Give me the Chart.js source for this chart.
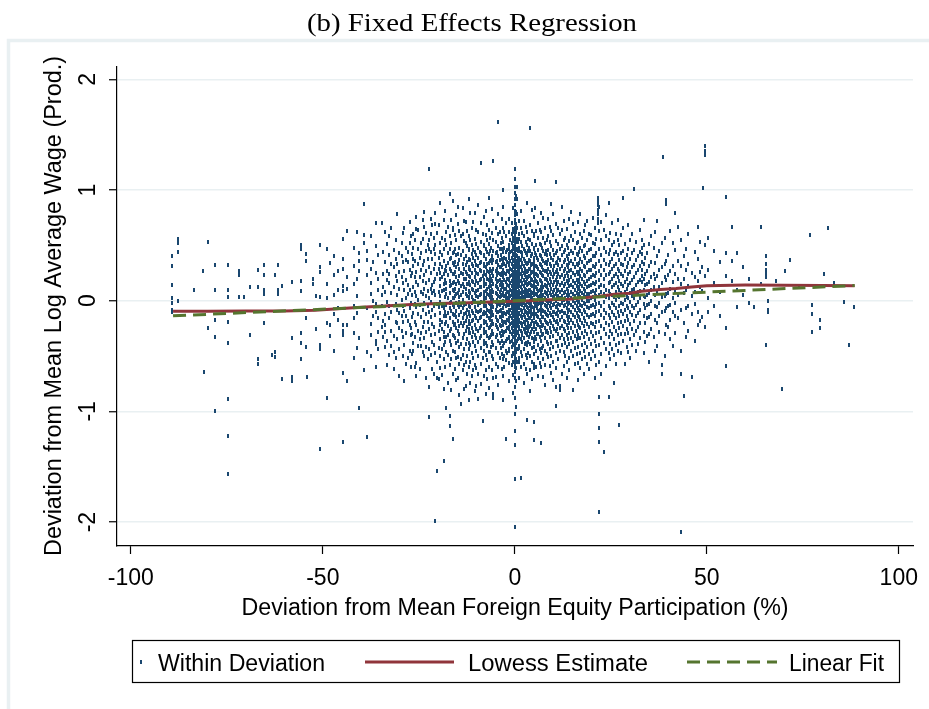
<!DOCTYPE html>
<html>
<head>
<meta charset="utf-8">
<script src="https://cdn.jsdelivr.net/npm/chart.js@4.4.1/dist/chart.umd.min.js"></script>
<style>
html,body{margin:0;padding:0;background:#fff;}
#wrap{width:929px;height:709px;}
</style>
</head>
<body>
<div id="wrap"><canvas id="c" width="929" height="709" style="width:929px;height:709px"></canvas></div>
<script>
// ---------- texts ----------
const chartTitle = '(b) Fixed Effects Regression';
const xAxisTitle = 'Deviation from Mean Foreign Equity Participation (%)';
const yAxisTitle = 'Deviation from Mean Log Average Wage (Prod.)';
const legendLabels = ['Within Deviation', 'Lowess Estimate', 'Linear Fit'];

// ---------- axes ----------
const xTicks = [-100, -50, 0, 50, 100];
const yTicks = [-2, -1, 0, 1, 2];
const xRange = [-103.6, 103.7];
const yRange = [-2.216, 2.111];

// ---------- fitted lines ----------
const lowessX = [-89, -80, -70, -60, -52, -46, -40, -34, -27, -20, -14, -8, -3, 0, 4, 9, 14, 18, 22, 26, 30, 33, 38, 42, 46, 50, 60, 70, 80, 88.5];
const lowessY = [-0.095, -0.095, -0.094, -0.093, -0.086, -0.072, -0.06, -0.048, -0.034, -0.026, -0.02, -0.014, -0.01, -0.006, 0, 0.008, 0.014, 0.026, 0.04, 0.058, 0.068, 0.086, 0.102, 0.11, 0.124, 0.136, 0.141, 0.139, 0.137, 0.136];
const linearX = [-89, 88.5];
const linearY = [-0.137, 0.137];

// ---------- scatter (x value, list of y values at that x) ----------
const farLeftStrips = [
  [-89.3, [.4,.31,.14,.02,-.02,-.1,-.08]],
  [-87.7, [.56,.52,.44,0]],
  [-83.5, [.1]],
  [-81.3, [.27]],
  [-80.9, [-.64]],
  [-80, [.53,-.25]],
  [-78, [.32,.1,-.17,-.33,-1]],
  [-74.6, [.32,.1,.03,-.19,-.38,-.89,-1.22,-1.57]],
  [-71.8, [.27,.23,.03]],
  [-70.4, [.03]],
  [-68.9, [.12,-.31]],
  [-66.8, [.28,.12,-.53,-.57]],
  [-65.2, [.32,.23,.1,.06,-.2]],
  [-63.2, [-.49]],
  [-62.5, [.23,-.46,-.51]],
  [-61.6, [.32,.06,.1]],
  [-60.6, [.13,-.71]],
  [-58, [.17,-.34,-.69,-.73]],
  [-55.8, [.5,.47,.18,.09,-.29,-.38,-.53]],
  [-54.4, [.42,.36,-.16,-.42]],
  [-54.2, [-.69]],
  [-52.5, [.2,.15]],
  [-51.8, [.04,-.26]],
  [-50.7, [.5,.3,.26,.03,-.4,-.44,-1.34]],
  [-49, [.15,.02,-.2,-.88]],
  [-48.8, [.47]],
  [-48, [.34,-.22,-.32]],
  [-47, [.4,.23,.05,-.12,-.45]],
  [-46, [.27,.1,-.07,-.17]],
  [-44.8, [.56,.38,.29,.13,.09,-.22,-.27,-.31,-.65,-1.28]],
  [-43.6, [.63,.21,.11,-.22,-.73]],
  [-42, [.48,.31,.15,-.05,-.16,-.29,-.52]],
  [-41.2, [.62,.2,.04,-.11,-.43]],
  [-40.5, [.43,.36,.27,-.34,-.97]],
  [-39.2, [.87,.59,.52,-.63]],
  [-38.4, [.45,.37,.23,-.07,-.46,-1.23]],
  [-37.5, [.58,.29,.16,.06,-.21,-.31,-.5]],
  [-36.9, [.35,0,-.14]],
  [-36.1, [.7,.49,.25,-.03,-.1,-.36,-.39,-.6]],
  [-35.5, [.41,.2,.1,-.16,-.28,-.44]]
];
const midLeftStrips = [
  [-34.6, [.7,.05,-.05,-.24]],
  [-34.2, [.44,.24,.12,-.18,-.33]],
  [-33.7, [.62,.35,.08,-.12,-.22,-.28,-.42]],
  [-33.2, [.51,.27,.19,-.01,-.36,-.58]],
  [-32.7, [.58,.41,.24,.16,-.05,-.16,-.49]],
  [-32.2, [.66,.33,.07,-.1,-.27,-.41]],
  [-31.4, [.46,.3,.12,-.32,-.46,-.62]],
  [-31, [.55,.38,.22,-.03,-.19,-.52]],
  [-30.6, [.78,.33,.18,.05,-.08,-.2,-.35]],
  [-30.1, [.43,.26,.11,-.11,-.25,-.44,-.68]],
  [-29.5, [.52,.4,.21,.01,-.14,-.27]],
  [-29.1, [.61,.35,.16,-.05,-.19,-.33,-.5]],
  [-28.8, [.66,.27,.1,-.09,-.4,-.73]],
  [-28.3, [.48,.37,.19,.02,-.14,-.29,-.57]],
  [-27.8, [.44,.35,.14,.06,-.18,-.52]],
  [-27.4, [.71,.52,.28,.1,-.07,-.22,-.45]],
  [-27, [.58,.22,-.02,-.25,-.31,-.6]],
  [-26.8, [.42,.25,.05,-.15,-.3,-.48]],
  [-26.4, [.6,.48,.38,.31,.12,-.11,-.38,-.45]],
  [-26, [.55,.36,.21,.08,-.03,-.19,-.33,-.6]],
  [-25.7, [.76,.65,.26,.17,.04,-.06,-.22,-.56,-.68]],
  [-25.2, [.64,.47,.33,.14,.01,-.12,-.27,-.41]],
  [-24.8, [.39,.21,-.04,-.35,-.62]],
  [-24.4, [.52,.43,.28,.08,-.15,-.29,-.41]],
  [-24, [.73,.56,.32,.18,.06,-.08,-.24,-.46]],
  [-23.6, [.8,.67,.36,.23,.11,-.02,-.19,-.34,-.5]],
  [-23.1, [.61,.45,.27,.16,.04,-.12,-.28,-.42,-.7]],
  [-22.7, [.5,.38,.09,-.05,-.19,-.53]],
  [-22.3, [1.19,.55,.47,.3,.19,.02,-.1,-.26,-.44,-.78,-1.05]],
  [-21.9, [.74,.6,.44,.25,.11,-.01,-.15,-.31,-.49]],
  [-21.5, [.68,.38,.14,.07,-.08,-.21,-.37,-.62]],
  [-21.1, [.57,.47,.29,.17,.09,-.05,-.24,-.4,-.66]],
  [-20.7, [.79,.69,.5,.42,.33,.2,.05,-.13,-.3,-.47,-1.99]],
  [-20.2, [.61,.24,-.03,-.55,-.7,-1.54]]
];
const coreStrips = [
  [-19.4, [.88,.52,.44,.33,.25,.2,.13,.04,-.01,-.11,-.17,-.22,-.35,-.5,-.61]],
  [-18.5, [.73,.47,.36,.24,.15,.1,-.03,-.07,-.14,-.28,-.33,-.4,-.53,-.8,-1.45]],
  [-17.9, [.62,.5,.31,.27,.16,.11,.06,-.04,-.14,-.19,-.33,-.46,-.97]],
  [-17, [.96,.58,.47,.38,.29,.18,.13,.07,-.02,-.07,-.16,-.27,-.36,-.58,-1.04,-1.13]],
  [-16, [.9,.66,.64,.43,.34,.24,.16,.1,.02,-.04,-.12,-.19,-.31,-.45,-.66,-1.25]],
  [-15.2, [.77,.55,.41,.3,.21,.15,.06,-.02,-.09,-.15,-.25,-.38,-.52,-.72]],
  [-14.5, [.63,.48,.37,.29,.22,.16,.1,.03,-.01,-.06,-.13,-.23,-.3,-.42,-.57,-.85]],
  [-13.6, [.84,.6,.45,.33,.24,.15,.08,.01,-.07,-.16,-.23,-.34,-.49,-.63]],
  [-12.8, [.71,.52,.4,.32,.26,.2,.11,.06,-.03,-.11,-.18,-.27,-.39,-.55,-.77]],
  [-12, [.92,.58,.46,.38,.3,.22,.17,.08,.02,-.05,-.12,-.21,-.29,-.44,-.6,-.9]],
  [-11.2, [.66,.5,.42,.33,.25,.18,.11,.03,-.02,-.09,-.18,-.25,-.33,-.47,-.68]],
  [-10.4, [.79,.56,.44,.36,.28,.21,.14,.07,0,-.06,-.14,-.22,-.31,-.41,-.58,-.82]],
  [-9.5, [.86,.62,.48,.39,.31,.24,.16,.1,.03,-.04,-.1,-.18,-.27,-.37,-.5,-.66,-.89]],
  [-9.1, [.44,.34,.28,.19,.12,.05,-.02,-.09,-.16,-.25,-.34]],
  [-8.7, [1.24,.7,.53,.43,.35,.27,.2,.12,.06,-.01,-.08,-.15,-.23,-.32,-.43,-.57,-.75]],
  [-8.3, [.6,.22,-.12,-.52,-1.09]],
  [-7.6, [.81,.59,.47,.38,.3,.23,.15,.09,.02,-.05,-.11,-.19,-.28,-.38,-.49,-.63,-.84]],
  [-6.8, [.93,.64,.51,.42,.34,.26,.19,.12,.05,-.02,-.09,-.16,-.25,-.34,-.46,-.6,-.79]],
  [-6.2, [.48,.37,.27,.2,.13,.07,0,-.07,-.14,-.22,-.31,-.42]],
  [-5.6, [1.26,.72,.55,.45,.37,.29,.22,.15,.08,.01,-.06,-.13,-.21,-.3,-.4,-.53,-.7,-.84,-.88]],
  [-4.3, [1.61,.78,.6,.49,.4,.32,.25,.18,.11,.04,-.03,-.1,-.18,-.26,-.36,-.47,-.6,-.76]],
  [-3.6, [.52,.41,.3,.23,.16,.1,.04,-.02,-.08,-.15,-.23,-.32,-.43]],
  [-3, [1,.85,.66,.53,.44,.36,.28,.21,.14,.07,0,-.07,-.14,-.22,-.31,-.41,-.53,-.68,-.9]],
  [-2.4, [.7,.31,.02,-.19,-.45,-1.25]],
  [-2, [.46,.35,.27,.2,.14,.08,.02,-.04,-.1,-.17,-.25,-.35,-.47]],
  [-1.6, [.74,.62,.5,.42,.34,.27,.2,.13,.06,-.01,-.08,-.16,-.24,-.33,-.44,-.56,-.73]],
  [-1.2, [.55,.44,.36,.29,.22,.16,.1,.04,-.02,-.08,-.14,-.21,-.28,-.37]],
  [-0.8, [.7,.6,.52,.45,.39,.33,.28,.23,.18,.13,.09,.05,.01,-.03,-.07,-.11,-.16,-.2,-.25,-.3,-.36,-.42,-.5,-.58]],
  [0, [1.19,1.1,1.03,.97,.92,.86,.81,.77,.73,.7,.66,.63,.6,.57,.54,.51,.48,.45,.42,.39,.36,.33,.3,.27,.24,.21,.18,.15,.12,.09,.06,.03,0,-.03,-.06,-.09,-.12,-.15,-.18,-.21,-.24,-.27,-.3,-.33,-.36,-.39,-.42,-.45,-.48,-.51,-.54,-.57,-.6,-.64,-.7,-.78,-.88,-1.02,-1.18,-1.3,-1.61,-2.04]],
  [0.6, [1.03,.92,.78,.66,.56,.47,.4,.35,.3,.26,.22,.19,.15,.12,.08,.05,.02,-.02,-.06,-.09,-.13,-.18,-.23,-.29,-.36,-.44,-.55]],
  [1, [.6,.48,.39,.32,.25,.19,.13,.07,.01,-.05,-.11,-.17,-.24,-.32,-.41,-.52]],
  [1.5, [.81,.66,.53,.44,.37,.3,.24,.18,.12,.07,.02,-.03,-.08,-.14,-.2,-.27,-.35,-.46,-.6]],
  [1.7, [-1.6]],
  [2, [.43,.34,.27,.21,.15,.09,.03,-.03,-.09,-.16,-.23,-.31]],
  [2.4, [.72,.58,.47,.38,.31,.25,.19,.13,.08,.03,-.02,-.07,-.13,-.19,-.26,-.34,-.44,-.57,-.74]],
  [3.2, [.88,.62,.5,.41,.33,.26,.2,.14,.09,.04,-.01,-.06,-.11,-.17,-.24,-.31,-.4,-.52,-.66,-1.08]],
  [3.6, [.48,.37,.29,.22,.16,.1,.04,-.02,-.09,-.16,-.24,-.33]],
  [4, [1.56,.68,.55,.45,.36,.29,.22,.16,.1,.05,0,-.05,-.1,-.16,-.23,-.3,-.39,-.5,-.63,-.82]],
  [4.9, [.76,.6,.48,.39,.31,.24,.17,.11,.05,-.01,-.07,-.13,-.2,-.28,-.37,-.48,-.61,-1.1,-1.26]],
  [5.3, [1.08,.84,.43,.2,-.04,-.33]],
  [5.7, [.39,.3,.23,.17,.11,.05,-.01,-.07,-.14,-.21,-.3]],
  [6.1, [.7,.57,.46,.37,.29,.22,.15,.09,.03,-.03,-.09,-.15,-.22,-.3,-.4,-.52,-.68]],
  [6.9, [.79,.62,.5,.4,.32,.25,.18,.12,.06,0,-.06,-.12,-.19,-.27,-.36,-.47,-.6,-1.29]],
  [7.8, [.66,.52,.42,.34,.27,.2,.14,.08,.02,-.04,-.1,-.17,-.25,-.34,-.45,-.58,-.76]],
  [8.2, [.45,.35,.27,.2,.13,.07,.01,-.05,-.12,-.19,-.28]],
  [8.7, [.74,.58,.46,.37,.29,.23,.16,.1,.04,-.02,-.08,-.14,-.21,-.29,-.39,-.51]],
  [9.5, [.87,.63,.49,.39,.31,.24,.17,.11,.05,-.01,-.07,-.13,-.2,-.28,-.38,-.5,-.65]],
  [10.1, [.41,.31,.24,.17,.1,.04,-.03,-.1,-.17,-.26]],
  [10.8, [1.07,.69,.54,.43,.34,.26,.19,.12,.06,0,-.06,-.12,-.19,-.27,-.36,-.47,-.61,-.78,-.95]],
  [11.8, [.6,.47,.37,.29,.21,.14,.08,.02,-.04,-.1,-.17,-.25,-.34,-.45,-.77,-.81]],
  [12.7, [.72,.55,.44,.35,.27,.2,.13,.07,.01,-.05,-.11,-.18,-.26,-.35,-.46,-.59]],
  [13.6, [.65,.5,.4,.32,.25,.18,.11,.05,-.01,-.07,-.14,-.22,-.31,-.42,-.55,-.7]],
  [14.6, [.8,.58,.45,.36,.28,.21,.14,.08,.02,-.04,-.1,-.17,-.25,-.34,-.45]],
  [15.6, [.62,.48,.38,.3,.23,.16,.1,.04,-.02,-.08,-.15,-.23,-.32,-.43,-.57]],
  [16.5, [.71,.53,.41,.32,.24,.17,.11,.05,-.01,-.07,-.14,-.22,-.31,-.42,-.56,-.72]],
  [17.5, [.57,.45,.35,.27,.2,.13,.07,.01,-.05,-.12,-.2,-.29,-.4,-.53]],
  [18.4, [.68,.5,.39,.3,.22,.15,.09,.03,-.03,-.1,-.18,-.27,-.38,-.51]],
  [19.3, [.6,.46,.36,.28,.2,.13,.06,0,-.07,-.15,-.24,-.35,-.48,-.62]],
  [20.3, [.75,.52,.4,.31,.23,.16,.09,.03,-.04,-.12,-.21,-.32,-.45]],
  [21.2, [.56,.43,.33,.25,.17,.1,.04,-.03,-.1,-.19,-.29,-.41,-.58]],
  [21.7, [.93,.9,.86,.82,.78,.74,.7]]
];
const coreFillStrips = [
  [-19.8, [.68,.39,.29,.08,-.06,-.27,-.43,-.71]],
  [-19, [.57,.41,.3,.21,.09,-.05,-.19,-.26,-.44,-.67]],
  [-18.2, [.81,.55,.28,.19,.03,-.1,-.21,-.37,-.6]],
  [-17.4, [.67,.43,.34,.23,.02,-.11,-.23,-.31,-.49,-.74]],
  [-16.6, [.73,.52,.39,.27,.14,-.01,-.09,-.26,-.4,-.53,-.81]],
  [-15.9, [.44,.32,.24,.17,.09,.02,-.06,-.13,-.22,-.32]],
  [-15.6, [.59,.47,.35,.26,.11,.04,-.13,-.21,-.34,-.46,-.62]],
  [-14.9, [.85,.69,.42,.33,.18,.07,-.04,-.18,-.27,-.36,-.51,-.7]],
  [-14.1, [.58,.41,.25,.13,.05,-.04,-.1,-.2,-.39,-.53,-.93]],
  [-13.2, [.72,.54,.38,.29,.2,.12,-.04,-.12,-.2,-.3,-.44,-.58,-.8]],
  [-12.4, [.63,.49,.35,.24,.15,.04,-.08,-.15,-.24,-.35,-.5,-.66]],
  [-11.9, [.47,.37,.29,.22,.15,.09,.03,-.03,-.1,-.18,-.26,-.38]],
  [-11.6, [.79,.55,.37,.28,.21,.14,.07,-.06,-.14,-.21,-.29,-.4,-.55,-.74]],
  [-10.8, [.71,.46,.39,.31,.17,.1,.01,-.11,-.17,-.28,-.37,-.52,-.63]],
  [-10, [.64,.51,.41,.32,.25,.18,.09,.04,-.09,-.16,-.26,-.34,-.45,-.61,-.77]],
  [-8.1, [.76,.49,.4,.31,.24,.16,.08,.03,-.04,-.1,-.18,-.26,-.36,-.45,-.68]],
  [-7.9, [.5,.41,.33,.26,.19,.13,.07,.01,-.05,-.12,-.2,-.29,-.39]],
  [-7.2, [.68,.55,.44,.33,.27,.2,.11,.06,-.08,-.14,-.22,-.32,-.41,-.54,-.71]],
  [-6.5, [.57,.45,.36,.29,.22,.16,.09,.03,-.03,-.1,-.17,-.24,-.33,-.46]],
  [-5.9, [.83,.61,.4,.34,.25,.18,.1,.03,-.04,-.1,-.18,-.27,-.37,-.5,-.63]],
  [-5, [.66,.53,.43,.35,.27,.2,.13,.07,-.01,-.08,-.15,-.22,-.33,-.43,-.57,-.69]],
  [-4.7, [.44,.36,.29,.23,.17,.12,.06,.01,-.05,-.1,-.17,-.24,-.31]],
  [-3.9, [.62,.47,.37,.3,.24,.19,.14,.08,.03,-.04,-.09,-.15,-.22,-.29,-.38,-.52]],
  [-3.3, [.74,.57,.47,.38,.32,.25,.17,.12,.05,-.02,-.11,-.18,-.27,-.36,-.48,-.62]],
  [-2.7, [.62,.48,.39,.33,.25,.19,.11,.04,-.03,-.11,-.19,-.28,-.38,-.5,-.6]],
  [-2.2, [.58,.44,.38,.31,.24,.17,.11,.06,.01,-.05,-.12,-.2,-.27,-.36,-.54]],
  [-1.4, [.47,.39,.32,.26,.19,.13,.08,.02,-.04,-.11,-.18,-.26,-.34,-.45]],
  [-0.6, [.62,.54,.47,.41,.36,.3,.25,.21,.16,.12,.08,.03,-.01,-.05,-.09,-.13,-.18,-.23,-.27,-.33,-.4,-.48]],
  [-0.4, [.84,.65,.57,.49,.42,.37,.31,.26,.2,.16,.11,.07,.02,-.02,-.06,-.1,-.14,-.19,-.23,-.28,-.33,-.39,-.47,-.55,-.67,-.83]],
  [0.3, [.95,.8,.69,.62,.53,.46,.41,.36,.31,.25,.2,.16,.1,.07,.03,-.01,-.05,-.1,-.15,-.2,-.26,-.31,-.38,-.46,-.53,-.61,-.73,-.96]],
  [0.9, [.53,.45,.38,.32,.27,.22,.17,.12,.07,.03,-.02,-.06,-.11,-.16,-.22,-.28,-.35,-.44]],
  [1.2, [.72,.56,.45,.36,.29,.21,.15,.09,.04,-.01,-.07,-.12,-.19,-.26,-.34,-.43,-.55,-.7]],
  [1.8, [.61,.49,.4,.33,.28,.22,.16,.1,.06,.01,-.04,-.1,-.15,-.21,-.29,-.37,-.5]],
  [2.6, [.45,.36,.29,.23,.17,.11,.07,.02,-.04,-.09,-.15,-.21,-.28,-.39]],
  [2.8, [.67,.53,.43,.34,.27,.21,.16,.1,.05,-.04,-.1,-.17,-.25,-.29,-.38,-.49,-.62]],
  [3.4, [.56,.45,.34,.27,.21,.15,.09,.05,-.01,-.07,-.13,-.2,-.27,-.37,-.47]],
  [4.2, [.4,.32,.25,.2,.14,.08,.03,-.03,-.08,-.14,-.21,-.28]],
  [4.4, [.82,.63,.51,.42,.33,.26,.19,.13,.07,.02,-.06,-.12,-.18,-.26,-.34,-.43,-.55,-.71]],
  [5.1, [.58,.47,.35,.28,.22,.14,.08,.01,-.1,-.16,-.24,-.35,-.42,-.57]],
  [5.5, [.63,.5,.41,.31,.24,.18,.12,.06,0,-.05,-.12,-.19,-.26,-.35,-.45,-.6]],
  [6.5, [.64,.51,.41,.33,.26,.19,.1,.04,-.02,-.08,-.17,-.24,-.33,-.44,-.56]],
  [7, [.48,.38,.3,.23,.16,.1,.04,-.02,-.08,-.15,-.23,-.31,-.43]],
  [7.3, [.75,.57,.45,.36,.28,.22,.12,.05,-.01,-.09,-.15,-.22,-.3,-.41,-.53,-.69]],
  [8.5, [.55,.41,.33,.26,.19,.12,.06,0,-.06,-.13,-.2,-.27,-.37,-.48]],
  [9.1, [.67,.53,.42,.33,.26,.2,.14,.07,0,-.05,-.11,-.18,-.25,-.33,-.44,-.59]],
  [9.9, [.78,.59,.46,.37,.28,.21,.14,.08,.03,-.04,-.1,-.15,-.23,-.32,-.42,-.55,-.72]],
  [11, [.45,.35,.28,.21,.15,.09,.02,-.05,-.11,-.18,-.26,-.36]],
  [11.3, [.66,.51,.39,.32,.24,.17,.1,.04,-.03,-.08,-.14,-.21,-.3,-.41,-.53]],
  [12.2, [.85,.64,.49,.41,.31,.23,.16,.1,.04,-.02,-.09,-.15,-.23,-.31,-.4,-.66]],
  [13.2, [.57,.46,.37,.29,.22,.15,.08,.02,-.04,-.11,-.19,-.27,-.38,-.5]],
  [13.9, [.48,.38,.3,.22,.16,.09,.03,-.03,-.1,-.17,-.25,-.35]],
  [14.1, [.74,.54,.42,.34,.27,.19,.13,.05,-.02,-.08,-.15,-.2,-.29,-.39,-.52,-.63]],
  [15.1, [.69,.55,.43,.33,.25,.18,.12,.06,0,-.06,-.13,-.2,-.28,-.37,-.5,-.81]],
  [16.1, [.52,.42,.33,.26,.19,.13,.07,.01,-.05,-.11,-.18,-.27,-.35,-.48]],
  [16.8, [.44,.34,.26,.19,.12,.06,-.01,-.08,-.15,-.24,-.34]],
  [17, [.78,.6,.48,.38,.29,.22,.15,.09,.03,-.04,-.09,-.17,-.25,-.34,-.47,-.61]],
  [17.9, [.63,.49,.4,.31,.23,.17,.11,.05,-.02,-.08,-.16,-.23,-.33,-.45,-.66]],
  [18.9, [.72,.55,.43,.34,.26,.18,.12,.06,0,-.06,-.13,-.21,-.3,-.42,-.57]],
  [19.8, [.59,.47,.37,.28,.21,.14,.08,.02,-.05,-.13,-.2,-.28,-.39,-.53]],
  [20.8, [.66,.51,.4,.3,.22,.15,.07,.01,-.06,-.14,-.24,-.36,-.5,-.7]]
];
const midRightStrips = [
  [22, [.85,.63,.47,.36,.27,.19,.12,.05,-.02,-.09,-.18,-.28,-.4,-.55,-.87,-1.02,-1.15,-1.28,-1.91]],
  [22.5, [.71,.55,.41,.31,.23,.14,.08,-.05,-.13,-.23,-.34,-.48,-.66]],
  [23.3, [.64,.48,.37,.28,.2,.13,.06,-.01,-.08,-.16,-.26,-.38,-1.37]],
  [23.8, [.77,.58,.44,.33,.23,.1,.03,-.11,-.2,-.3,-.44,-.59]],
  [24.4, [.88,.55,.42,.32,.24,.16,.09,.02,-.05,-.13,-.22,-.33,-.47,-.87]],
  [24.9, [.61,.46,.35,.26,.17,.06,-.07,-.16,-.27,-.39,-.53]],
  [25.3, [.7,.5,.38,.29,.2,.12,.05,-.02,-.1,-.19,-.3,-.44]],
  [25.8, [.53,.42,.31,.22,.14,.03,-.04,-.13,-.24,-.35,-.49,-.74]],
  [26.3, [.6,.44,.33,.24,.16,.08,.01,-.07,-.16,-.27,-.4,-.57]],
  [26.8, [.73,.55,.41,.29,.21,.12,.04,-.1,-.2,-.31,-.45]],
  [27.2, [.5,.37,.27,.18,.1,.03,-.05,-.14,-.25,-.38,-1.12]],
  [27.7, [.59,.43,.33,.24,.15,.07,-.02,-.09,-.19,-.3,-.47]],
  [28.2, [.93,.66,.45,.32,.22,.13,.05,-.03,-.12,-.23,-.36]],
  [28.7, [.51,.38,.27,.17,.08,.01,-.08,-.18,-.3,-.57]],
  [29.1, [.41,.3,.2,.11,.03,-.05,-.14,-.26,-.42]],
  [29.6, [.68,.47,.34,.24,.14,.02,-.07,-.17,-.29,-.46]],
  [30, [.55,.38,.26,.16,.07,-.01,-.1,-.21,-.35,-.52]],
  [30.5, [.6,.43,.3,.19,.1,.04,-.05,-.13,-.26,-.4]],
  [31, [1.01,.46,.32,.21,.11,.02,-.07,-.18,-.31]],
  [31.5, [.53,.37,.25,.14,.06,-.04,-.14,-.27,-.45]],
  [32, [.4,.28,.17,.08,-.01,-.11,-.24,-.39]],
  [32.5, [.64,.44,.31,.19,.09,.02,-.08,-.2,-.34]],
  [33, [.55,.48,.42,.35,.28,.22,.17]],
  [33.7, [.73,.5,.33,.2,.1,.04,-.03,-.14,-.28,-.47]],
  [34, [.39,.24,.14,.03,-.07,-.2,-.37]],
  [34.5, [.43,.27,.15,.05,-.04,-.16,-.32]],
  [35, [.51,.31,.17,.07,-.03,-.15,-.3,-.55]],
  [35.5, [.58,.35,.21,.1,0,-.12,-.26]],
  [36.2, [.48,.24,.12,-.33]],
  [36.6, [.62,.34,.2,.05,-.05,-.17,-.45]],
  [37, [.72,.4,.22,.08,-.06,-.2,-.41]],
  [37.6, [.45,.28,.12,-.02,-.14,-.28]],
  [38.3, [.52,.3,.16,.03,-.1,-.58,-.66]],
  [38.6, [1.3]],
  [39, [.57,.33,.21,.04,-.09,-.3,-.5]],
  [39.5, [.91,.87,.36,.19,.06,-.07,-.22]],
  [40, [.41,.23,.07,-.05,-.24]],
  [40.5, [.63,.27,.11,-.04,-.17,-.35]],
  [41.2, [.52,.31,.17,.02,-.1,-.41]],
  [41.8, [.79,.46,.24,.09,-.02,-.14,-.29]],
  [42.5, [.67,.36,.2,.05,-.16]],
  [43.3, [.55,.31,.15,-.08,-.45,-.66,-2.09]],
  [44.1, [.4,.2,.07,-.2,-.86]],
  [44.7, [.47,.28,.1,-.07,-.33]],
  [45.2, [.6,.33,.13,-.05,-.27]],
  [46.2, [.25,.04,-.12,-.69]],
  [46.8, [.44,.21,.08,-.03,-.36]],
  [47.8, [.67,.38,.18,-.1,-.22]],
  [48.2, [.53,.26,.12,-.18]],
  [48.7, [.3,.09,-.15]],
  [49, [1.02]],
  [49.5, [1.4,1.35,1.32,.5,.22,-.24]]
];
const farRightStrips = [
  [50.4, [.57,.28,.02,-.1]],
  [52, [.45,.16,-.05]],
  [53.5, [.35,.08,-.14]],
  [55, [.94,.43,.22,-.25,-.59]],
  [56.6, [.67,.36,.18]],
  [57.8, [.43,.1,-.06]],
  [59.5, [.3,.05]],
  [61, [.2,-.02]],
  [62.4, [-.06]],
  [64.2, [.67,.15]],
  [65.4, [.4,.33,.28,.25,.21,-.4]],
  [66, [0,-.08,-.1]],
  [68, [.18]],
  [69.5, [-.8]],
  [70.4, [.27]],
  [71.6, [.37]],
  [74, [.12]],
  [76.9, [.59]],
  [77.4, [-.04,-.12,-.28]],
  [79.5, [-.17,-.25]],
  [80.4, [.24]],
  [81.6, [.66]],
  [83, [.16]],
  [85.8, [-.01]],
  [87, [-.4]],
  [88.3, [-.06]]
];

// ---------- styles ----------
const navy = '#1a476f';
const maroon = '#90353b';
const green = '#55752f';
const gridColor = '#e9f0f2';
const sansFont = '"Liberation Sans", Arial, sans-serif';
const serifFont = '"Liberation Serif", "Times New Roman", serif';

function makeMarker() {
  const c = document.createElement('canvas');
  c.width = 2; c.height = 4;
  const g = c.getContext('2d');
  g.fillStyle = navy;
  g.fillRect(0, 0, 2, 4);
  return c;
}
const marker = makeMarker();

const scatterPts = [];
[farLeftStrips, midLeftStrips, coreStrips, coreFillStrips, midRightStrips, farRightStrips].forEach(group =>
  group.forEach(([x, ys]) => ys.forEach(y => scatterPts.push({ x: x, y: y })))
);
const lowessPts = lowessX.map((x, i) => ({ x: x, y: lowessY[i] }));
const linearPts = linearX.map((x, i) => ({ x: x, y: linearY[i] }));

function drawText(ctx, txt, x, y, align, targetW) {
  ctx.save();
  ctx.textAlign = 'left';
  ctx.textBaseline = 'alphabetic';
  const w = ctx.measureText(txt).width;
  const sx = targetW ? targetW / w : 1;
  const realW = w * sx;
  let left = x;
  if (align === 'center') left = x - realW / 2;
  else if (align === 'right') left = x - realW;
  ctx.translate(left, y);
  ctx.scale(sx, 1);
  ctx.fillText(txt, 0, 0);
  ctx.restore();
}

const stataPlugin = {
  id: 'stataDecor',
  beforeDraw(chart) {
    const ctx = chart.ctx;
    ctx.save();
    ctx.fillStyle = '#fff';
    ctx.fillRect(0, 0, chart.width, chart.height);
    ctx.strokeStyle = gridColor;
    ctx.lineWidth = 3.5;
    ctx.strokeRect(8.5, 40.5, chart.width + 40, chart.height + 40);
    ctx.restore();
  },
  afterDraw(chart) {
    const ctx = chart.ctx;
    const xs = chart.scales.x, ys = chart.scales.y;
    ctx.save();
    ctx.fillStyle = '#000';
    // title
    ctx.font = '26px ' + serifFont;
    drawText(ctx, chartTitle, 472, 31, 'center', 330);
    // x tick labels
    ctx.font = '23px ' + sansFont;
    xTicks.forEach(v => drawText(ctx, String(v), xs.getPixelForValue(v), 585, 'center'));
    // y tick labels (rotated)
    yTicks.forEach(v => {
      ctx.save();
      ctx.translate(95, ys.getPixelForValue(v));
      ctx.rotate(-Math.PI / 2);
      drawText(ctx, String(v), 0, 0, 'center');
      ctx.restore();
    });
    // axis titles
    drawText(ctx, xAxisTitle, 515, 615, 'center', 547);
    ctx.save();
    ctx.translate(60.5, 306);
    ctx.rotate(-Math.PI / 2);
    drawText(ctx, yAxisTitle, 0, 0, 'center', 500);
    ctx.restore();
    // legend
    ctx.strokeStyle = '#000';
    ctx.lineWidth = 1.2;
    ctx.strokeRect(132.5, 640.5, 767, 42);
    const ly = 662;
    ctx.drawImage(marker, 140, ly - 2);
    drawText(ctx, legendLabels[0], 158, 671, 'left', 167);
    ctx.lineWidth = 3;
    ctx.strokeStyle = maroon;
    ctx.beginPath(); ctx.moveTo(365, ly); ctx.lineTo(454, ly); ctx.stroke();
    drawText(ctx, legendLabels[1], 468, 671, 'left', 180);
    ctx.strokeStyle = green;
    ctx.setLineDash([13, 7]);
    ctx.beginPath(); ctx.moveTo(687, ly); ctx.lineTo(777, ly); ctx.stroke();
    ctx.setLineDash([]);
    drawText(ctx, legendLabels[2], 789, 671, 'left', 95);
    ctx.restore();
  }
};

new Chart(document.getElementById('c'), {
  type: 'scatter',
  data: {
    datasets: [
      { label: legendLabels[0], data: scatterPts, pointStyle: marker, pointRadius: 2, pointHoverRadius: 2, showLine: false, order: 3 },
      { label: legendLabels[1], data: lowessPts, showLine: true, pointRadius: 0, borderColor: maroon, borderWidth: 3, fill: false, tension: 0, order: 2 },
      { label: legendLabels[2], data: linearPts, showLine: true, pointRadius: 0, borderColor: green, borderWidth: 3, borderDash: [13, 7], fill: false, order: 1 }
    ]
  },
  options: {
    responsive: false,
    animation: false,
    events: [],
    layout: { padding: { left: 0, right: 16, top: 67, bottom: 113 } },
    plugins: { legend: { display: false }, title: { display: false }, tooltip: { enabled: false } },
    scales: {
      x: {
        type: 'linear', min: xRange[0], max: xRange[1],
        afterBuildTicks: s => { s.ticks = xTicks.map(v => ({ value: v })); },
        afterFit: s => { s.height = 50; },
        ticks: { display: false },
        grid: { drawOnChartArea: false, drawTicks: true, tickLength: 8, tickColor: '#000', tickWidth: 1.2, color: '#000' },
        border: { display: true, color: '#000', width: 1.2 }
      },
      y: {
        type: 'linear', min: yRange[0], max: yRange[1],
        afterBuildTicks: s => { s.ticks = yTicks.map(v => ({ value: v })); },
        afterFit: s => { s.width = 117; },
        ticks: { display: false },
        grid: { drawOnChartArea: true, color: gridColor, lineWidth: 1.5, drawTicks: true, tickLength: 8, tickColor: '#000', tickWidth: 1.2 },
        border: { display: true, color: '#000', width: 1.2 }
      }
    }
  },
  plugins: [stataPlugin]
});
</script>
</body>
</html>
